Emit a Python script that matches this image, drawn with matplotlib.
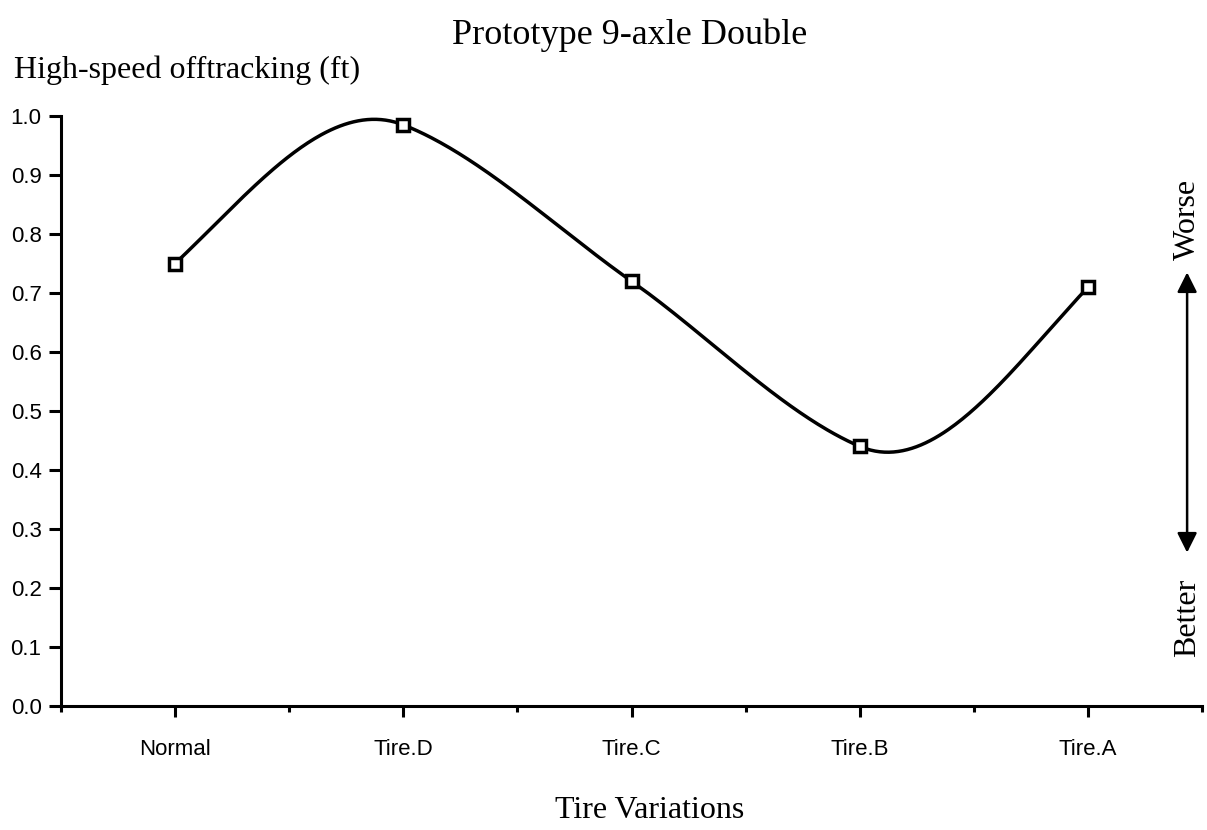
import numpy as np
from matplotlib import pyplot as plt
from matplotlib.ticker import MultipleLocator

categories = ["Normal", "Tire.D", "Tire.C", "Tire.B", "Tire.A"]
offtracking = [0.75, 0.985, 0.72, 0.44, 0.71]
yticks = [0.0, 0.1, 0.2, 0.3, 0.4, 0.5, 0.6, 0.7, 0.8, 0.9, 1.0]


def smooth_curve(x, y, n=400):
    # modified Akima interpolation (piecewise cubic Hermite)
    x = np.asarray(x, float)
    y = np.asarray(y, float)
    s = np.diff(y) / np.diff(x)
    # extend slopes by two on each side
    s = np.concatenate([[3 * s[0] - 2 * s[1], 2 * s[0] - s[1]], s,
                        [2 * s[-1] - s[-2], 3 * s[-1] - 2 * s[-2]]])
    m = np.zeros(len(x))
    for i in range(len(x)):
        k = i + 2
        w1 = abs(s[k + 1] - s[k]) + abs(s[k + 1] + s[k]) / 2
        w2 = abs(s[k - 1] - s[k - 2]) + abs(s[k - 1] + s[k - 2]) / 2
        if w1 + w2 == 0:
            m[i] = (s[k - 1] + s[k]) / 2
        else:
            m[i] = (w1 * s[k - 1] + w2 * s[k]) / (w1 + w2)
    xs = np.linspace(x[0], x[-1], n)
    ys = np.empty_like(xs)
    for j, xv in enumerate(xs):
        i = min(np.searchsorted(x, xv, side="right") - 1, len(x) - 2)
        h = x[i + 1] - x[i]
        t = (xv - x[i]) / h
        ys[j] = ((2 * t**3 - 3 * t**2 + 1) * y[i]
                 + (t**3 - 2 * t**2 + t) * h * m[i]
                 + (-2 * t**3 + 3 * t**2) * y[i + 1]
                 + (t**3 - t**2) * h * m[i + 1])
    return xs, ys


serif = "Liberation Serif"
sans = "Liberation Sans"

fig = plt.figure(figsize=(12.07, 8.30), dpi=100)
ax = fig.add_axes([0.0505, 0.1494, 0.9455, 0.7108])

x = np.arange(len(categories))
xs, ys = smooth_curve(x, offtracking)
ax.plot(xs, ys, color="black", lw=2.5)
ax.plot(x, offtracking, ls="none", marker="s", ms=9, mfc="white",
        mec="black", mew=2.5)

ax.set_xlim(-0.5, 4.5)
ax.set_ylim(0, 1.0)
ax.set_xticks(x)
ax.set_xticklabels(categories, fontfamily=sans, fontsize=16)
ax.xaxis.set_minor_locator(MultipleLocator(1, offset=0.5))
ax.set_yticks(yticks)
ax.set_yticklabels(["%.1f" % v for v in yticks], fontfamily=sans, fontsize=16)

for s in ["top", "right"]:
    ax.spines[s].set_visible(False)
for s in ["left", "bottom"]:
    ax.spines[s].set_linewidth(2.2)
ax.tick_params(axis="x", which="major", direction="out", length=8,
               width=2.2, pad=16, colors="black")
ax.tick_params(axis="x", which="minor", direction="out", length=4, width=2.2)
ax.tick_params(axis="y", which="major", direction="out", length=9,
               width=2.2, pad=5, colors="black")

fig.text(0.522, 0.958, "Prototype 9-axle Double", fontfamily=serif,
         fontsize=26, ha="center", va="center")
fig.text(0.012, 0.915, "High-speed offtracking (ft)", fontfamily=serif,
         fontsize=23, ha="left", va="center")
fig.text(0.538, 0.024, "Tire Variations", fontfamily=serif,
         fontsize=23, ha="center", va="center")

# better / worse arrow on the right
ax.annotate("", xy=(4.434, 0.735), xytext=(4.434, 0.26),
            arrowprops=dict(arrowstyle="<|-|>", color="black", lw=1.8,
                            mutation_scale=30, shrinkA=0, shrinkB=0),
            annotation_clip=False)
ax.text(4.434, 0.824, "Worse", rotation=90, ha="center", va="center",
        fontfamily=serif, fontsize=23, clip_on=False)
ax.text(4.434, 0.149, "Better", rotation=90, ha="center", va="center",
        fontfamily=serif, fontsize=23, clip_on=False)

fig.savefig("out.png", dpi=100)
